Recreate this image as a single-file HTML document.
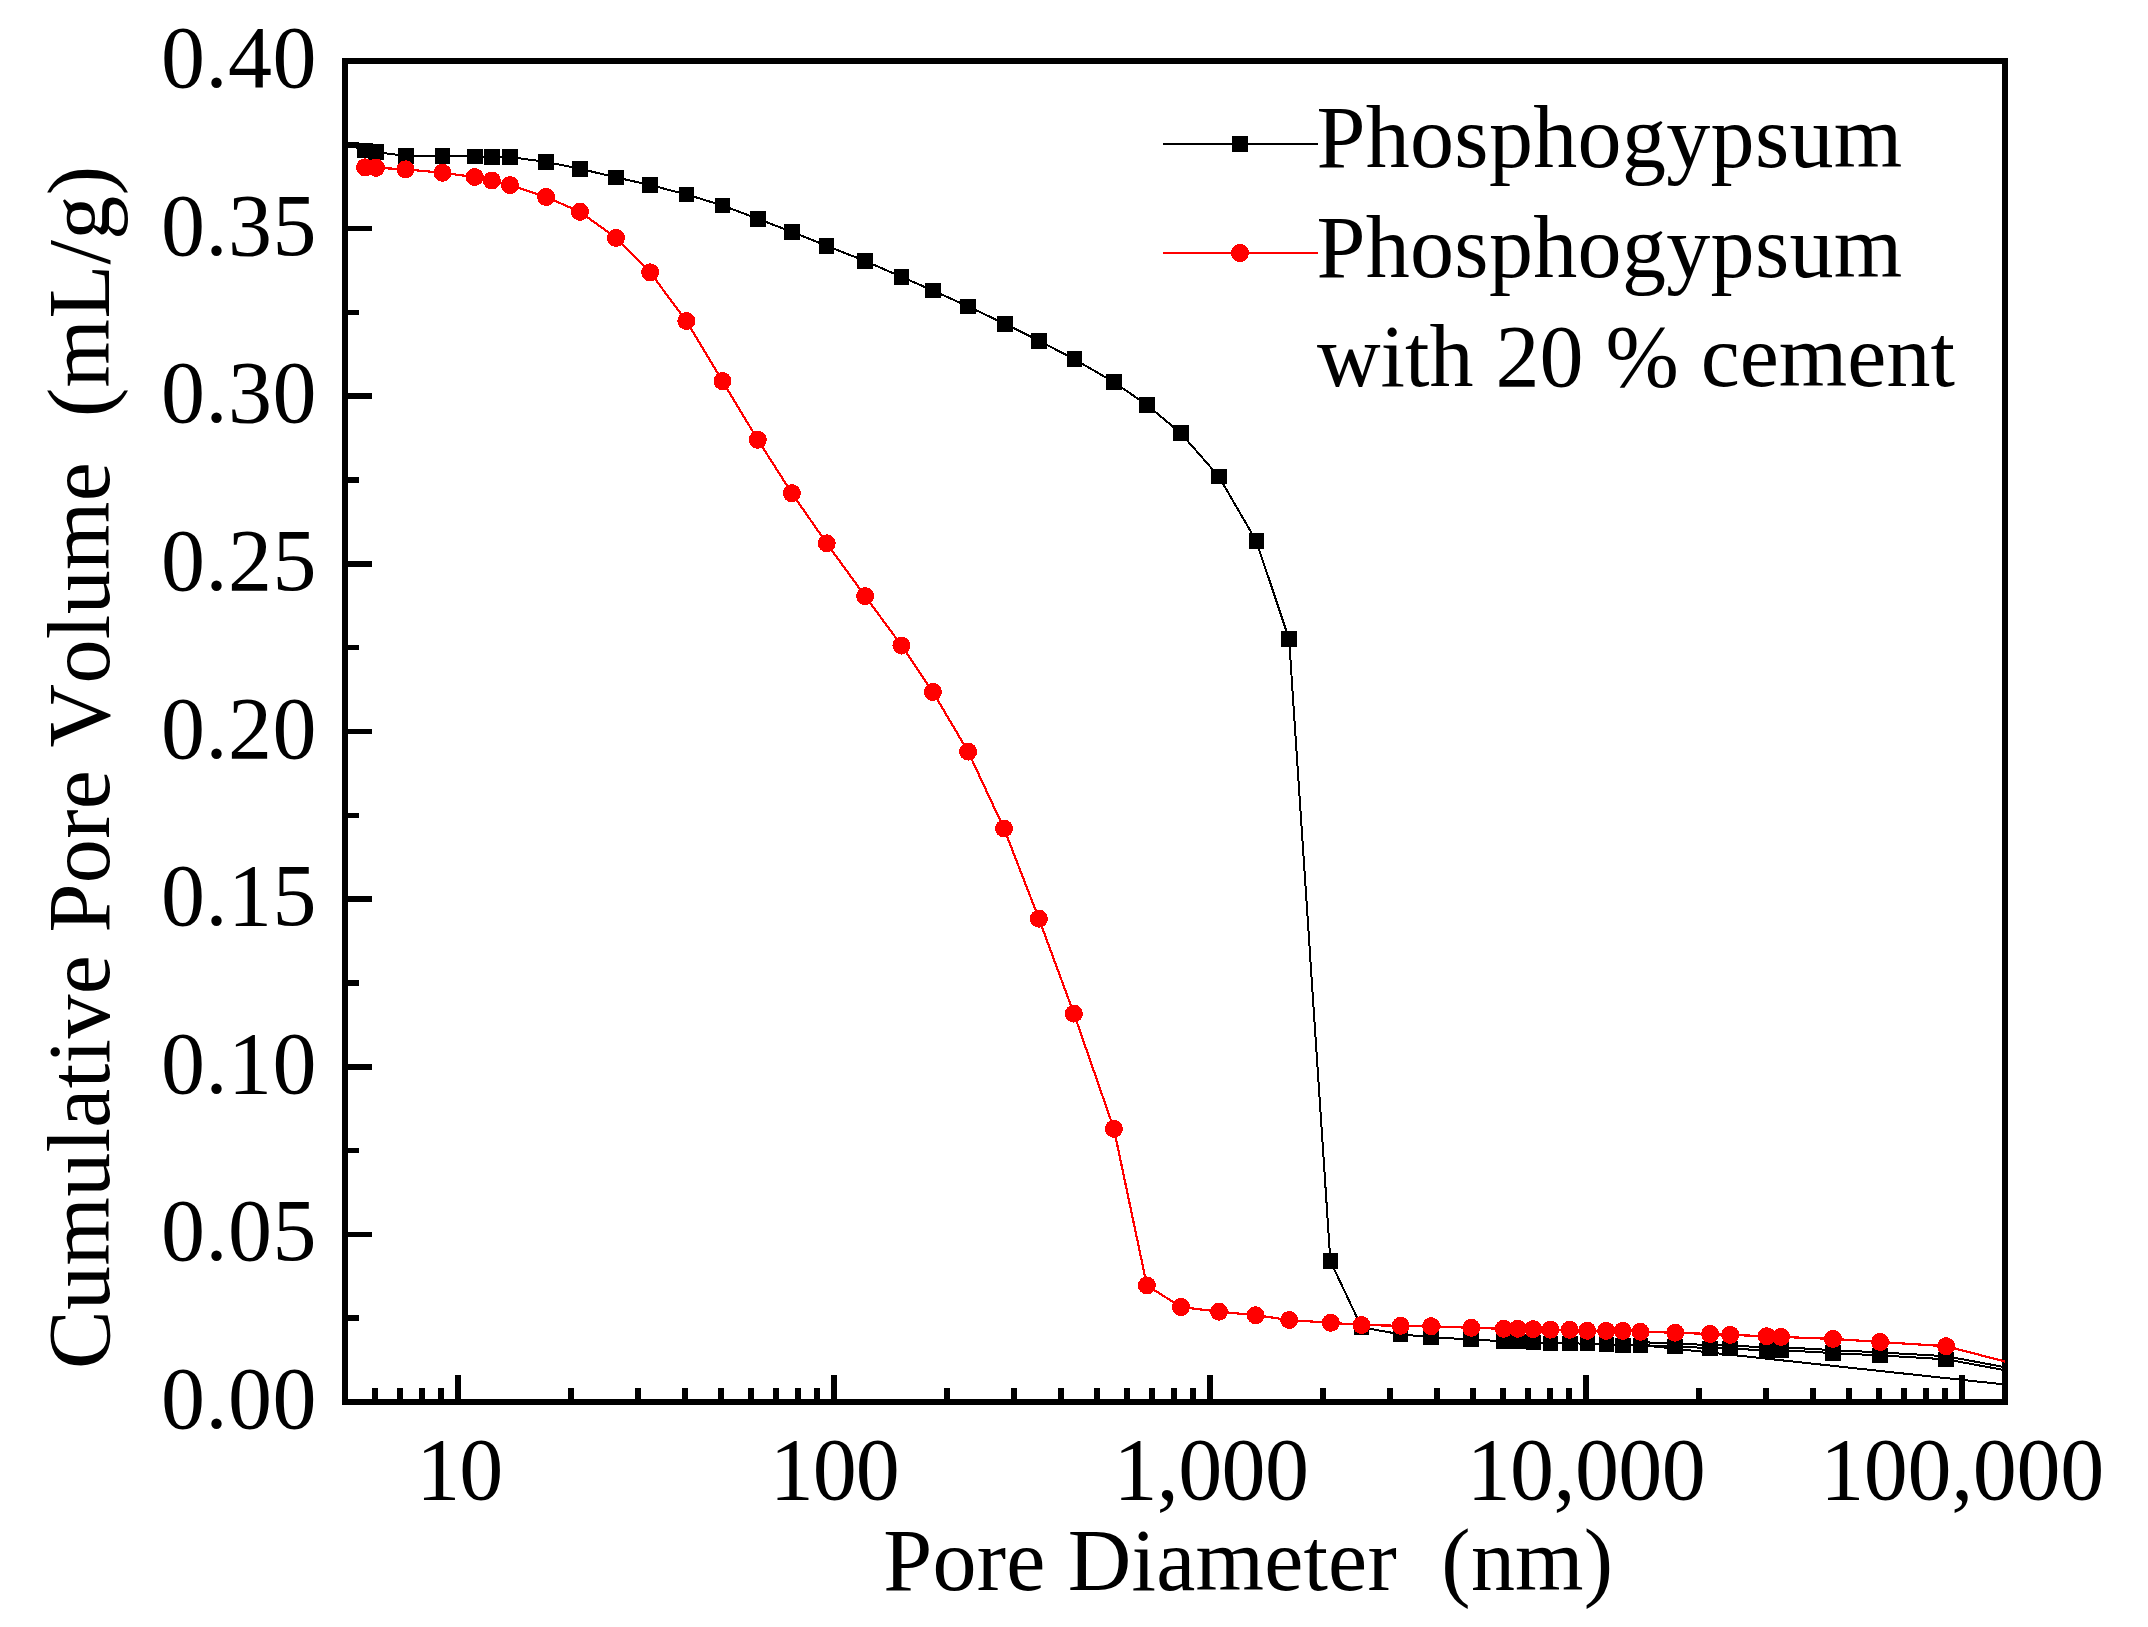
<!DOCTYPE html>
<html lang="en"><head><meta charset="utf-8"><title>Cumulative Pore Volume vs Pore Diameter</title>
<style>html,body{margin:0;padding:0;background:#fff;}body{width:2148px;height:1627px;overflow:hidden;}svg{display:block;}text{font-family:"Liberation Serif","Times New Roman",Times,serif;font-size:88px;fill:#000;font-kerning:none;}</style></head><body>
<svg width="2148" height="1627" viewBox="0 0 2148 1627">
<rect x="0" y="0" width="2148" height="1627" fill="#fff"/>
<g fill="#000" shape-rendering="crispEdges">
<rect x="348" y="1315" width="11" height="6"/>
<rect x="348" y="1232" width="24" height="5"/>
<rect x="348" y="1148" width="11" height="5"/>
<rect x="348" y="1064" width="24" height="6"/>
<rect x="348" y="980" width="11" height="6"/>
<rect x="348" y="896" width="24" height="6"/>
<rect x="348" y="813" width="11" height="5"/>
<rect x="348" y="729" width="24" height="5"/>
<rect x="348" y="645" width="11" height="5"/>
<rect x="348" y="561" width="24" height="6"/>
<rect x="348" y="477" width="11" height="6"/>
<rect x="348" y="393" width="24" height="6"/>
<rect x="348" y="310" width="11" height="5"/>
<rect x="348" y="226" width="24" height="5"/>
<rect x="348" y="142" width="11" height="6"/>
<rect x="372" y="1388" width="6" height="11"/>
<rect x="397" y="1388" width="6" height="11"/>
<rect x="419" y="1388" width="6" height="11"/>
<rect x="438" y="1388" width="6" height="11"/>
<rect x="455" y="1375" width="6" height="24"/>
<rect x="568" y="1388" width="6" height="11"/>
<rect x="635" y="1388" width="6" height="11"/>
<rect x="682" y="1388" width="6" height="11"/>
<rect x="718" y="1388" width="6" height="11"/>
<rect x="748" y="1388" width="6" height="11"/>
<rect x="773" y="1388" width="6" height="11"/>
<rect x="795" y="1388" width="6" height="11"/>
<rect x="814" y="1388" width="6" height="11"/>
<rect x="831" y="1375" width="6" height="24"/>
<rect x="944" y="1388" width="6" height="11"/>
<rect x="1011" y="1388" width="6" height="11"/>
<rect x="1058" y="1388" width="6" height="11"/>
<rect x="1094" y="1388" width="6" height="11"/>
<rect x="1124" y="1388" width="6" height="11"/>
<rect x="1149" y="1388" width="6" height="11"/>
<rect x="1171" y="1388" width="6" height="11"/>
<rect x="1190" y="1388" width="6" height="11"/>
<rect x="1207" y="1375" width="6" height="24"/>
<rect x="1320" y="1388" width="6" height="11"/>
<rect x="1387" y="1388" width="6" height="11"/>
<rect x="1434" y="1388" width="6" height="11"/>
<rect x="1470" y="1388" width="6" height="11"/>
<rect x="1500" y="1388" width="6" height="11"/>
<rect x="1525" y="1388" width="6" height="11"/>
<rect x="1547" y="1388" width="6" height="11"/>
<rect x="1566" y="1388" width="6" height="11"/>
<rect x="1583" y="1375" width="6" height="24"/>
<rect x="1696" y="1388" width="6" height="11"/>
<rect x="1763" y="1388" width="6" height="11"/>
<rect x="1810" y="1388" width="6" height="11"/>
<rect x="1846" y="1388" width="6" height="11"/>
<rect x="1876" y="1388" width="6" height="11"/>
<rect x="1901" y="1388" width="6" height="11"/>
<rect x="1923" y="1388" width="6" height="11"/>
<rect x="1942" y="1388" width="6" height="11"/>
<rect x="1959" y="1375" width="6" height="24"/>
</g>
<rect x="345.0" y="61.0" width="1660.0" height="1341.0" fill="none" stroke="#000" stroke-width="6" shape-rendering="crispEdges"/>
<clipPath id="plotclip"><rect x="345" y="61" width="1661" height="1341"/></clipPath><g clip-path="url(#plotclip)">
<g fill="none" stroke="#000" stroke-width="2" stroke-linejoin="round" shape-rendering="crispEdges">
<polyline points="345,143.5 365.2,150.7 376.2,152.0 405.9,156.0 442.6,156.0 475.1,156.6 492.0,157.1 510.1,157.1 546.1,161.9 580.1,168.8 616.1,177.4 650.0,185.0 686.2,194.4 722.4,205.4 758.0,218.9 792.0,231.9 826.5,245.8 865.0,260.9 901.6,276.9 933.0,290.6 968.0,306.4 1005.0,323.9 1039.0,340.8 1074.2,359.1 1114.0,382.2 1147.1,405.1 1180.8,433.2 1218.9,476.6 1256.2,540.9 1289.1,639.1 1330.4,1261.1 1361.6,1327.3 1400.5,1334.3 1431.1,1337.3 1471.0,1339.4 1503.6,1341.3 1518.0,1341.6 1533.3,1342.2 1550.4,1343.4 1569.8,1343.4 1587.2,1343.6 1606.4,1344.3 1622.9,1345.2 1640.5,1345.2 1675.1,1346.4 1710.0,1348.2 1730.1,1348.2 1766.8,1350.8 1781.0,1350.1 1833.0,1353.1 1880.0,1355.4 1946.0,1359.3 2005,1370.2"/>
<polyline points="1640.5,1342.2 1675.1,1343.4 1710,1345.2 1730,1345.4 1767,1347.6 1781,1347.2 1833,1350.1 1880,1352.4 1946,1356.2 2005,1367.2"/>
<polyline points="1640.5,1345.0 2005,1384.5"/>
</g>
<g fill="#000" shape-rendering="crispEdges">
<rect x="357.4" y="142.9" width="15.5" height="15.5"/>
<rect x="368.4" y="144.2" width="15.5" height="15.5"/>
<rect x="398.1" y="148.2" width="15.5" height="15.5"/>
<rect x="434.9" y="148.2" width="15.5" height="15.5"/>
<rect x="467.4" y="148.8" width="15.5" height="15.5"/>
<rect x="484.2" y="149.3" width="15.5" height="15.5"/>
<rect x="502.4" y="149.3" width="15.5" height="15.5"/>
<rect x="538.4" y="154.2" width="15.5" height="15.5"/>
<rect x="572.4" y="161.1" width="15.5" height="15.5"/>
<rect x="608.4" y="169.7" width="15.5" height="15.5"/>
<rect x="642.2" y="177.2" width="15.5" height="15.5"/>
<rect x="678.5" y="186.7" width="15.5" height="15.5"/>
<rect x="714.6" y="197.7" width="15.5" height="15.5"/>
<rect x="750.2" y="211.2" width="15.5" height="15.5"/>
<rect x="784.2" y="224.2" width="15.5" height="15.5"/>
<rect x="818.8" y="238.1" width="15.5" height="15.5"/>
<rect x="857.2" y="253.1" width="15.5" height="15.5"/>
<rect x="893.9" y="269.1" width="15.5" height="15.5"/>
<rect x="925.2" y="282.9" width="15.5" height="15.5"/>
<rect x="960.2" y="298.6" width="15.5" height="15.5"/>
<rect x="997.2" y="316.1" width="15.5" height="15.5"/>
<rect x="1031.2" y="333.1" width="15.5" height="15.5"/>
<rect x="1066.5" y="351.4" width="15.5" height="15.5"/>
<rect x="1106.2" y="374.4" width="15.5" height="15.5"/>
<rect x="1139.3" y="397.4" width="15.5" height="15.5"/>
<rect x="1173.0" y="425.4" width="15.5" height="15.5"/>
<rect x="1211.2" y="468.9" width="15.5" height="15.5"/>
<rect x="1248.5" y="533.1" width="15.5" height="15.5"/>
<rect x="1281.3" y="631.4" width="15.5" height="15.5"/>
<rect x="1322.7" y="1253.3" width="15.5" height="15.5"/>
<rect x="1353.8" y="1319.5" width="15.5" height="15.5"/>
<rect x="1392.8" y="1326.5" width="15.5" height="15.5"/>
<rect x="1423.3" y="1329.5" width="15.5" height="15.5"/>
<rect x="1463.2" y="1331.7" width="15.5" height="15.5"/>
<rect x="1495.8" y="1333.5" width="15.5" height="15.5"/>
<rect x="1510.2" y="1333.8" width="15.5" height="15.5"/>
<rect x="1525.5" y="1334.5" width="15.5" height="15.5"/>
<rect x="1542.7" y="1335.7" width="15.5" height="15.5"/>
<rect x="1562.0" y="1335.7" width="15.5" height="15.5"/>
<rect x="1579.5" y="1335.8" width="15.5" height="15.5"/>
<rect x="1598.7" y="1336.5" width="15.5" height="15.5"/>
<rect x="1615.2" y="1337.5" width="15.5" height="15.5"/>
<rect x="1632.8" y="1337.5" width="15.5" height="15.5"/>
<rect x="1667.3" y="1338.7" width="15.5" height="15.5"/>
<rect x="1702.2" y="1340.5" width="15.5" height="15.5"/>
<rect x="1722.3" y="1340.5" width="15.5" height="15.5"/>
<rect x="1759.0" y="1343.0" width="15.5" height="15.5"/>
<rect x="1773.2" y="1342.3" width="15.5" height="15.5"/>
<rect x="1825.2" y="1345.3" width="15.5" height="15.5"/>
<rect x="1872.2" y="1347.7" width="15.5" height="15.5"/>
<rect x="1938.2" y="1351.5" width="15.5" height="15.5"/>
</g>
<polyline fill="none" stroke="#f00" stroke-width="2.2" stroke-linejoin="round" shape-rendering="crispEdges" points="365.0,167.3 376.0,167.8 405.6,169.3 442.5,172.8 474.8,177.0 491.9,180.5 510.0,185.1 546.1,197.0 580.0,211.8 616.0,237.9 650.1,272.3 686.3,321.0 722.5,381.1 757.8,439.8 791.9,493.2 826.7,543.3 865.1,596.1 901.5,645.5 932.9,692.0 968.1,751.6 1004.0,828.5 1038.9,918.7 1073.9,1013.6 1113.9,1128.8 1146.9,1285.4 1181.0,1307.0 1219.0,1311.7 1255.6,1315.2 1289.2,1320.0 1330.8,1322.8 1361.5,1325.0 1400.7,1325.8 1431.1,1326.2 1471.3,1327.8 1503.7,1328.8 1517.9,1328.8 1533.2,1329.1 1550.4,1329.7 1569.7,1329.8 1587.1,1330.8 1606.2,1330.9 1622.8,1330.9 1640.4,1331.8 1675.2,1332.7 1710.1,1334.0 1730.2,1334.9 1766.7,1336.2 1781.0,1336.9 1833.0,1338.9 1880.1,1342.0 1946.1,1346.2 2005,1361.5"/>
<g fill="#f00" shape-rendering="crispEdges">
<circle cx="365.0" cy="167.3" r="9"/>
<circle cx="376.0" cy="167.8" r="9"/>
<circle cx="405.6" cy="169.3" r="9"/>
<circle cx="442.5" cy="172.8" r="9"/>
<circle cx="474.8" cy="177.0" r="9"/>
<circle cx="491.9" cy="180.5" r="9"/>
<circle cx="510.0" cy="185.1" r="9"/>
<circle cx="546.1" cy="197.0" r="9"/>
<circle cx="580.0" cy="211.8" r="9"/>
<circle cx="616.0" cy="237.9" r="9"/>
<circle cx="650.1" cy="272.3" r="9"/>
<circle cx="686.3" cy="321.0" r="9"/>
<circle cx="722.5" cy="381.1" r="9"/>
<circle cx="757.8" cy="439.8" r="9"/>
<circle cx="791.9" cy="493.2" r="9"/>
<circle cx="826.7" cy="543.3" r="9"/>
<circle cx="865.1" cy="596.1" r="9"/>
<circle cx="901.5" cy="645.5" r="9"/>
<circle cx="932.9" cy="692.0" r="9"/>
<circle cx="968.1" cy="751.6" r="9"/>
<circle cx="1004.0" cy="828.5" r="9"/>
<circle cx="1038.9" cy="918.7" r="9"/>
<circle cx="1073.9" cy="1013.6" r="9"/>
<circle cx="1113.9" cy="1128.8" r="9"/>
<circle cx="1146.9" cy="1285.4" r="9"/>
<circle cx="1181.0" cy="1307.0" r="9"/>
<circle cx="1219.0" cy="1311.7" r="9"/>
<circle cx="1255.6" cy="1315.2" r="9"/>
<circle cx="1289.2" cy="1320.0" r="9"/>
<circle cx="1330.8" cy="1322.8" r="9"/>
<circle cx="1361.5" cy="1325.0" r="9"/>
<circle cx="1400.7" cy="1325.8" r="9"/>
<circle cx="1431.1" cy="1326.2" r="9"/>
<circle cx="1471.3" cy="1327.8" r="9"/>
<circle cx="1503.7" cy="1328.8" r="9"/>
<circle cx="1517.9" cy="1328.8" r="9"/>
<circle cx="1533.2" cy="1329.1" r="9"/>
<circle cx="1550.4" cy="1329.7" r="9"/>
<circle cx="1569.7" cy="1329.8" r="9"/>
<circle cx="1587.1" cy="1330.8" r="9"/>
<circle cx="1606.2" cy="1330.9" r="9"/>
<circle cx="1622.8" cy="1330.9" r="9"/>
<circle cx="1640.4" cy="1331.8" r="9"/>
<circle cx="1675.2" cy="1332.7" r="9"/>
<circle cx="1710.1" cy="1334.0" r="9"/>
<circle cx="1730.2" cy="1334.9" r="9"/>
<circle cx="1766.7" cy="1336.2" r="9"/>
<circle cx="1781.0" cy="1336.9" r="9"/>
<circle cx="1833.0" cy="1338.9" r="9"/>
<circle cx="1880.1" cy="1342.0" r="9"/>
<circle cx="1946.1" cy="1346.2" r="9"/>
</g>
</g>
<g shape-rendering="crispEdges">
<rect x="1163" y="143" width="155" height="2" fill="#000"/>
<rect x="1232" y="136" width="15.5" height="16" fill="#000"/>
<rect x="1163" y="252" width="155" height="2" fill="#f00"/>
<circle cx="1240" cy="253" r="9" fill="#f00"/>
</g>
<text x="1316.4" y="167" textLength="585.9">Phosphogypsum</text>
<text x="1316.4" y="277" textLength="585.9">Phosphogypsum</text>
<text x="1317.0" y="386">with 20 % cement</text>
<text x="161.1" y="1428.0" textLength="155.5">0.00</text>
<text x="161.1" y="1260.4" textLength="155.5">0.05</text>
<text x="161.1" y="1092.8" textLength="155.5">0.10</text>
<text x="161.1" y="925.1" textLength="155.5">0.15</text>
<text x="161.1" y="757.5" textLength="155.5">0.20</text>
<text x="161.1" y="589.9" textLength="155.5">0.25</text>
<text x="161.1" y="422.2" textLength="155.5">0.30</text>
<text x="161.1" y="254.6" textLength="155.5">0.35</text>
<text x="161.1" y="87.0" textLength="155.5">0.40</text>
<text x="416.2" y="1499" textLength="87">10</text>
<text x="769.7" y="1499" textLength="130">100</text>
<text x="1113.4" y="1499" textLength="195.5">1,000</text>
<text x="1466.7" y="1499" textLength="239">10,000</text>
<text x="1820.2" y="1499" textLength="284">100,000</text>
<text x="883.3" y="1590" textLength="729.8" xml:space="preserve">Pore Diameter  (nm)</text>
<text transform="translate(109,1369) rotate(-90)" textLength="1203" xml:space="preserve">Cumulative Pore Volume  (mL/g)</text>
</svg></body></html>
